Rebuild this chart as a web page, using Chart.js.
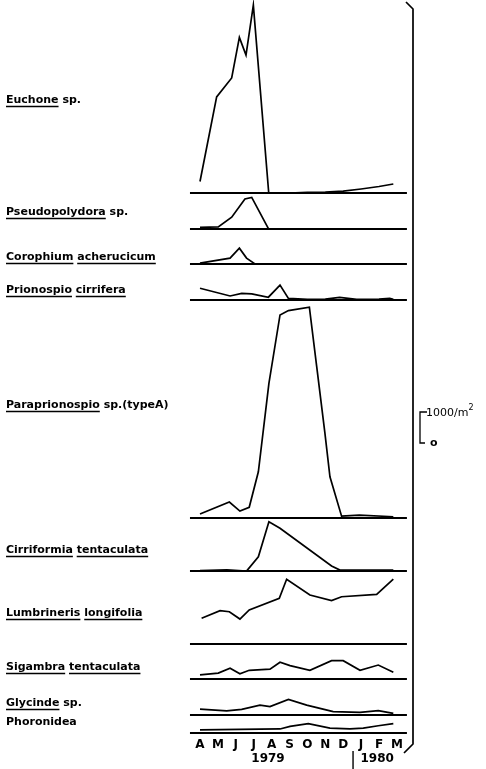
<!DOCTYPE html>
<html>
<head>
<meta charset="utf-8">
<script src="https://cdn.jsdelivr.net/npm/chart.js@4/dist/chart.umd.min.js"></script>
<style>
  html, body { margin: 0; padding: 0; background: #fff; }
  #wrap { width: 486px; height: 769px; position: relative; }
</style>
</head>
<body>
<div id="wrap"><canvas id="chart"></canvas></div>
<script>
// Month ticks (Apr 1979 .. Mar 1980), x = month index
const MONTHS = ['A', 'M', 'J', 'J', 'A', 'S', 'O', 'N', 'D', 'J', 'F', 'M'];
const YEARS = ['1979', '1980'];

// Abundance per m2, [month index, value]
const EUCHONE = [[0, 370], [0.93, 3100], [1.77, 3710], [2.2, 5020], [2.57, 4450], [2.98, 6060], [3.84, 0], [5, 0], [6, 20], [7, 30], [8, 60], [9, 130], [10, 210], [10.8, 290]];
const PSEUDOPOLYDORA = [[0, 50], [1.02, 70], [1.77, 380], [2.51, 970], [2.89, 1020], [3.83, 0], [10.8, 0]];
const COROPHIUM = [[0, 30], [1.68, 190], [2.2, 510], [2.6, 190], [3.07, 0], [10.8, 0]];
const PRIONOSPIO = [[0, 380], [1.68, 130], [2.33, 215], [2.89, 195], [3.82, 90], [4.47, 480], [4.94, 50], [6, 20], [7, 30], [7.8, 85], [8.75, 20], [10, 30], [10.6, 50], [10.8, 20]];
const PARAPRIONOSPIO = [[0, 130], [1.64, 515], [2.23, 225], [2.75, 345], [3.26, 1490], [3.85, 4345], [4.47, 6550], [4.94, 6690], [6.11, 6800], [6.52, 4880], [6.98, 2730], [7.26, 1330], [7.91, 60], [8.9, 90], [10.8, 40]];
const CIRRIFORMIA = [[0, 10], [1.5, 40], [2.6, 0], [3.26, 460], [3.85, 1590], [4.47, 1380], [7.35, 160], [7.82, 30], [10.8, 30]];
const LUMBRINERIS = [[0.09, 830], [1.12, 1075], [1.64, 1040], [2.23, 805], [2.75, 1100], [4.43, 1475], [4.84, 2090], [6.14, 1580], [7.35, 1400], [7.91, 1525], [9.87, 1600], [10.8, 2090]];
const SIGAMBRA = [[0, 130], [1.02, 190], [1.68, 345], [2.23, 170], [2.75, 280], [3.91, 320], [4.47, 540], [5.03, 430], [6.14, 280], [7.35, 590], [8, 590], [8.94, 280], [9.96, 450], [10.8, 215]];
const GLYCINDE = [[0, 190], [1.49, 130], [2.33, 180], [3.35, 320], [3.91, 270], [4.94, 505], [5.96, 320], [7.44, 110], [8.94, 85], [9.96, 140], [10.8, 50]];
const PHORONIDEA = [[0, 100], [4.47, 130], [5.03, 215], [6.05, 300], [7.26, 160], [8.38, 130], [9.12, 160], [9.96, 235], [10.8, 300]];

const SERIES = [EUCHONE, PSEUDOPOLYDORA, COROPHIUM, PRIONOSPIO, PARAPRIONOSPIO, CIRRIFORMIA, LUMBRINERIS, SIGAMBRA, GLYCINDE, PHORONIDEA];

// Species names: [text, underlined]
const NAMES = [
    [['Euchone', true], [' sp.', false]],
    [['Pseudopolydora', true], [' sp.', false]],
    [['Corophium', true], [' ', false], ['acherucicum', true]],
    [['Prionospio', true], [' ', false], ['cirrifera', true]],
    [['Paraprionospio', true], [' sp.(typeA)', false]],
    [['Cirriformia', true], [' ', false], ['tentaculata', true]],
    [['Lumbrineris', true], [' ', false], ['longifolia', true]],
    [['Sigambra', true], [' ', false], ['tentaculata', true]],
    [['Glycinde', true], [' sp.', false]],
    [['Phoronidea', false]]
];

// Layout (pixels)
const W = 486, H = 769;
const BASE_PX = [193, 229, 264, 300, 518, 571, 644, 679, 715, 733];
const LABEL_PX = [100, 212, 257, 290, 405, 550, 613, 667, 703, 722];
const PX_PER_1000 = 31;
const X0_PX = 200, PX_PER_MONTH = 17.9;

const unitsPerPx = 1000 / PX_PER_1000;
const offsets = BASE_PX.map(p => (H - p) * unitsPerPx);

const datasets = [];
SERIES.forEach((s, i) => {
    datasets.push({
        data: [{ x: -0.56, y: offsets[i] }, { x: 11.56, y: offsets[i] }],
        borderColor: '#000', borderWidth: 2, pointRadius: 0, tension: 0
    });
    datasets.push({
        data: s.map(p => ({ x: p[0], y: offsets[i] + p[1] })),
        borderColor: '#000', borderWidth: 1.7, pointRadius: 0, tension: 0
    });
});

const decorations = {
    id: 'decorations',
    afterDraw(chart) {
        const ctx = chart.ctx;
        const xs = chart.scales.x, ys = chart.scales.y;
        ctx.save();
        ctx.fillStyle = '#000';
        ctx.strokeStyle = '#000';
        ctx.textBaseline = 'middle';

        // species names
        ctx.font = 'bold 11px "DejaVu Sans"';
        NAMES.forEach((parts, i) => {
            let x = 6;
            const y = LABEL_PX[i];
            parts.forEach(([t, u]) => {
                const w = ctx.measureText(t).width;
                ctx.fillText(t, x, y);
                if (u) {
                    ctx.lineWidth = 1.5;
                    ctx.beginPath();
                    ctx.moveTo(x, y + 6.5);
                    ctx.lineTo(x + w, y + 6.5);
                    ctx.stroke();
                }
                x += w;
            });
        });

        // month labels
        ctx.font = 'bold 12px "DejaVu Sans"';
        ctx.textAlign = 'center';
        MONTHS.forEach((m, i) => ctx.fillText(m, xs.getPixelForValue(i), 745));
        ctx.fillText(YEARS[0], xs.getPixelForValue(3.8), 759);
        ctx.fillText(YEARS[1], xs.getPixelForValue(9.9), 759);
        ctx.lineWidth = 1.4;
        ctx.beginPath();
        ctx.moveTo(xs.getPixelForValue(8.55), 751);
        ctx.lineTo(xs.getPixelForValue(8.55), 769);
        ctx.stroke();

        // right bracket
        ctx.lineWidth = 1.7;
        ctx.beginPath();
        ctx.moveTo(406, 2);
        ctx.lineTo(413, 9);
        ctx.lineTo(413, 744);
        ctx.lineTo(404, 753);
        ctx.stroke();

        // scale bar
        const yBot = ys.getPixelForValue((H - 443) * unitsPerPx);
        const yTop = ys.getPixelForValue((H - 443) * unitsPerPx + 1000);
        ctx.lineWidth = 1.3;
        ctx.beginPath();
        ctx.moveTo(427, yTop);
        ctx.lineTo(420, yTop);
        ctx.lineTo(420, yBot);
        ctx.lineTo(425, yBot);
        ctx.stroke();
        ctx.textAlign = 'left';
        ctx.font = '11px "DejaVu Sans"';
        ctx.fillText('1000/m', 426, yTop + 1);
        const w = ctx.measureText('1000/m').width;
        ctx.font = '8px "DejaVu Sans"';
        ctx.fillText('2', 426 + w, yTop - 4);
        ctx.font = 'bold 11px "DejaVu Sans"';
        ctx.fillText('o', 430, yBot);
        ctx.restore();
    }
};

new Chart(document.getElementById('chart'), {
    type: 'line',
    data: { datasets: datasets },
    options: {
        responsive: true,
        maintainAspectRatio: false,
        animation: false,
        layout: { padding: 0 },
        plugins: { legend: { display: false }, tooltip: { enabled: false } },
        scales: {
            x: { type: 'linear', display: false, min: -X0_PX / PX_PER_MONTH, max: (W - X0_PX) / PX_PER_MONTH },
            y: { type: 'linear', display: false, min: 0, max: H * unitsPerPx }
        }
    },
    plugins: [decorations]
});
</script>
</body>
</html>
